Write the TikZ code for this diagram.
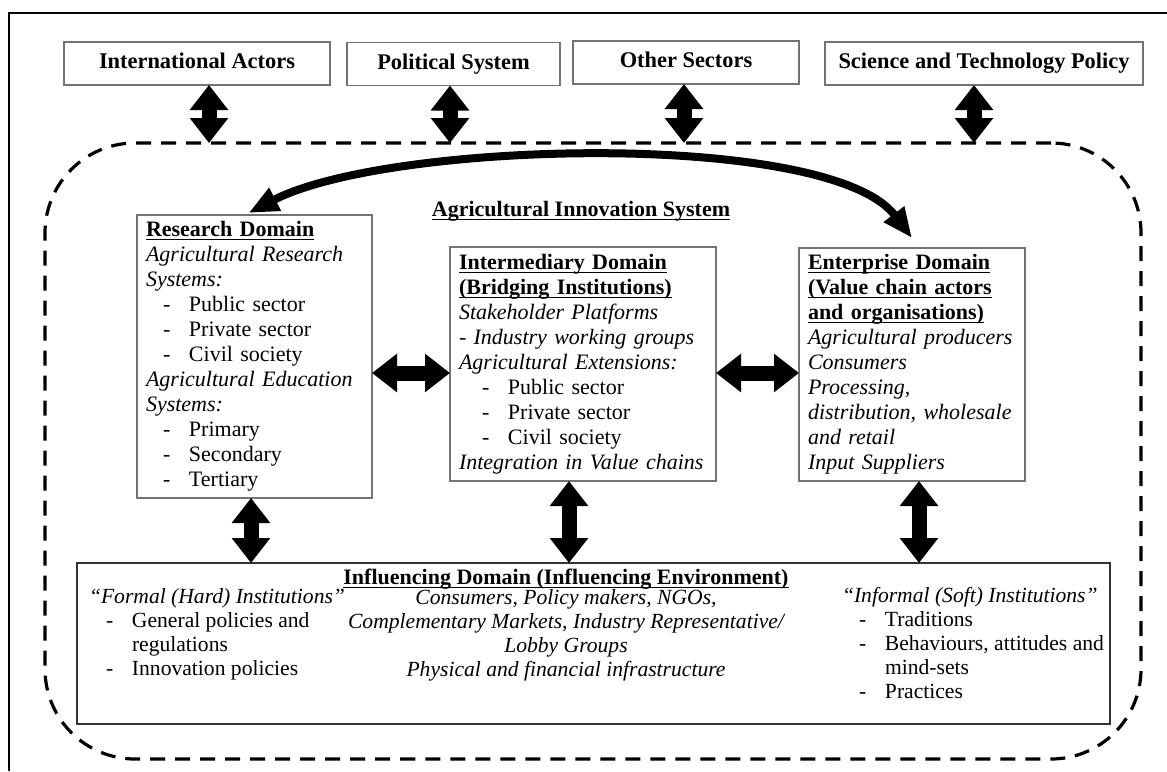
\documentclass[tikz,border=0pt]{standalone}
\usepackage{fontspec}
\setmainfont{Liberation Serif}
\usetikzlibrary{arrows.meta}
\newcommand\itm[1]{\hspace*{8.5pt}\makebox[13pt][l]{-}#1}
\newcommand\hd[1]{\underline{\raisebox{0pt}[\height][0pt]{\textbf{#1}}}}
\begin{document}
\begin{tikzpicture}[x=0.5pt,y=-0.5pt,
  every node/.style={font=\fontsize{11pt}{12.5pt}\selectfont, inner sep=0pt, outer sep=0pt},
  topbox/.style={draw=black!55, line width=0.6pt, font=\fontsize{11.2pt}{12.5pt}\selectfont\bfseries, minimum height=21.5pt, text height=7.6pt, text depth=2.4pt},
  domainbox/.style={draw=black!55, line width=0.6pt, align=left, inner xsep=4.5pt, inner ysep=0pt},
  inflbox/.style={draw=black!80, line width=0.8pt},
  sysbox/.style={draw, dash pattern=on 7.5pt off 5pt, line width=1.6pt, rounded corners=45pt},
  inftext/.style={font=\fontsize{10.8pt}{12pt}\selectfont},
  blockarrow/.style={line width=7.5pt, {Triangle[length=12.5pt,width=18.5pt]}-{Triangle[length=12.5pt,width=18.5pt]}},
  curvearrow/.style={line width=4pt, {Triangle[length=15pt,width=12pt]}-{Triangle[length=15pt,width=12pt]}},
]
\useasboundingbox (0,0) rectangle (1167,771);
\fill[white] (0,0) rectangle (1167,771);
% outer frame
\draw[line width=1pt] (1167,13) -- (9,13) -- (9,771);

% top boxes
\node[topbox, minimum width=133pt] (ia) at (197,63.5) {International Actors};
\node[topbox, minimum width=106.5pt] (ps) at (453.5,64) {Political System};
\node[topbox, minimum width=113pt] (os) at (686,62.5) {Other Sectors};
\node[topbox, minimum width=159pt] (st) at (984,63.5) {Science and Technology Policy};

% system boundary
\node[sysbox, minimum width=548pt, minimum height=308pt] (ais) at (593,451) {};
\node (aist) at (581,211) {\hd{Agricultural Innovation System}};

% domains
\node[domainbox, text width=108.5pt, minimum height=141.5pt] (rd) at (254.5,356.5) {%
\hd{Research Domain}\\
\textit{Agricultural Research}\\
\textit{Systems:}\\
\itm{Public sector}\\
\itm{Private sector}\\
\itm{Civil society}\\
\textit{Agricultural Education}\\
\textit{Systems:}\\
\itm{Primary}\\
\itm{Secondary}\\
\itm{Tertiary}};

\node[domainbox, text width=124pt, minimum height=117pt] (id) at (583,364) {%
\hd{Intermediary Domain}\\
\hd{(Bridging Institutions)}\\
\textit{Stakeholder Platforms}\\
\textit{- Industry working groups}\\
\textit{Agricultural Extensions:}\\
\hspace*{3pt}\itm{Public sector}\\
\hspace*{3pt}\itm{Private sector}\\
\hspace*{3pt}\itm{Civil society}\\
\textit{Integration in Value chains}};

\node[domainbox, text width=104pt, minimum height=116.5pt] (ed) at (912,364.5) {%
\hd{Enterprise Domain}\\
\hd{(Value chain actors}\\
\hd{and organisations)}\\
\textit{Agricultural producers}\\
\textit{Consumers}\\
\textit{Processing,}\\
\textit{distribution, wholesale}\\
\textit{and retail}\\
\textit{Input Suppliers}};

% influencing domain
\node[inflbox, minimum width=516.5pt, minimum height=80.5pt] (inf) at (593.5,643.5) {};
\node (inft) at (566,579) {\hd{Influencing Domain (Influencing Environment)}};
\node[inftext, anchor=west, align=left] (formal) at (89,634) {%
\textit{“Formal (Hard) Institutions”}\\
\itm{General policies and}\\
\hspace*{21.5pt}regulations\\
\itm{Innovation policies}};
\node[inftext, align=center, font=\fontsize{10.8pt}{12pt}\selectfont\itshape] (mid) at (566,635) {%
Consumers, Policy makers, NGOs,\\
Complementary Markets, Industry Representative/\\
Lobby Groups\\
Physical and financial infrastructure};
\node[inftext, anchor=west, align=left] (informal) at (842,643) {%
\textit{“Informal (Soft) Institutions”}\\
\itm{Traditions}\\
\itm{Behaviours, attitudes and}\\
\hspace*{21.5pt}mind-sets\\
\itm{Practices}};

% arrows: top
\coordinate (c1) at (209,0);
\coordinate (c2) at (450,0);
\coordinate (c3) at (684,0);
\coordinate (c4) at (974,0);
\draw[blockarrow] (c1 |- ia.south) -- (c1 |- ais.north);
\draw[blockarrow] (c2 |- ps.south) -- (c2 |- ais.north);
\draw[blockarrow] (c3 |- os.south) -- (c3 |- ais.north);
\draw[blockarrow] (c4 |- st.south) -- (c4 |- ais.north);

% arrows: horizontal
\coordinate (h1) at (0,373);
\draw[blockarrow] (rd.east |- h1) -- (id.west |- h1);
\draw[blockarrow] (id.east |- h1) -- (ed.west |- h1);

% arrows: bottom
\coordinate (b1) at (251,0);
\coordinate (b2) at (569,0);
\coordinate (b3) at (919,0);
\draw[blockarrow] (b1 |- rd.south) -- (b1 |- inf.north);
\draw[blockarrow] (b2 |- id.south) -- (b2 |- inf.north);
\draw[blockarrow] (b3 |- ed.south) -- (b3 |- inf.north);

% curved arrow
\draw[curvearrow] ([xshift=-3pt,yshift=1pt]rd.north) .. controls (390,140) and (830,130) .. ([yshift=5pt]ed.north);
\end{tikzpicture}
\end{document}
